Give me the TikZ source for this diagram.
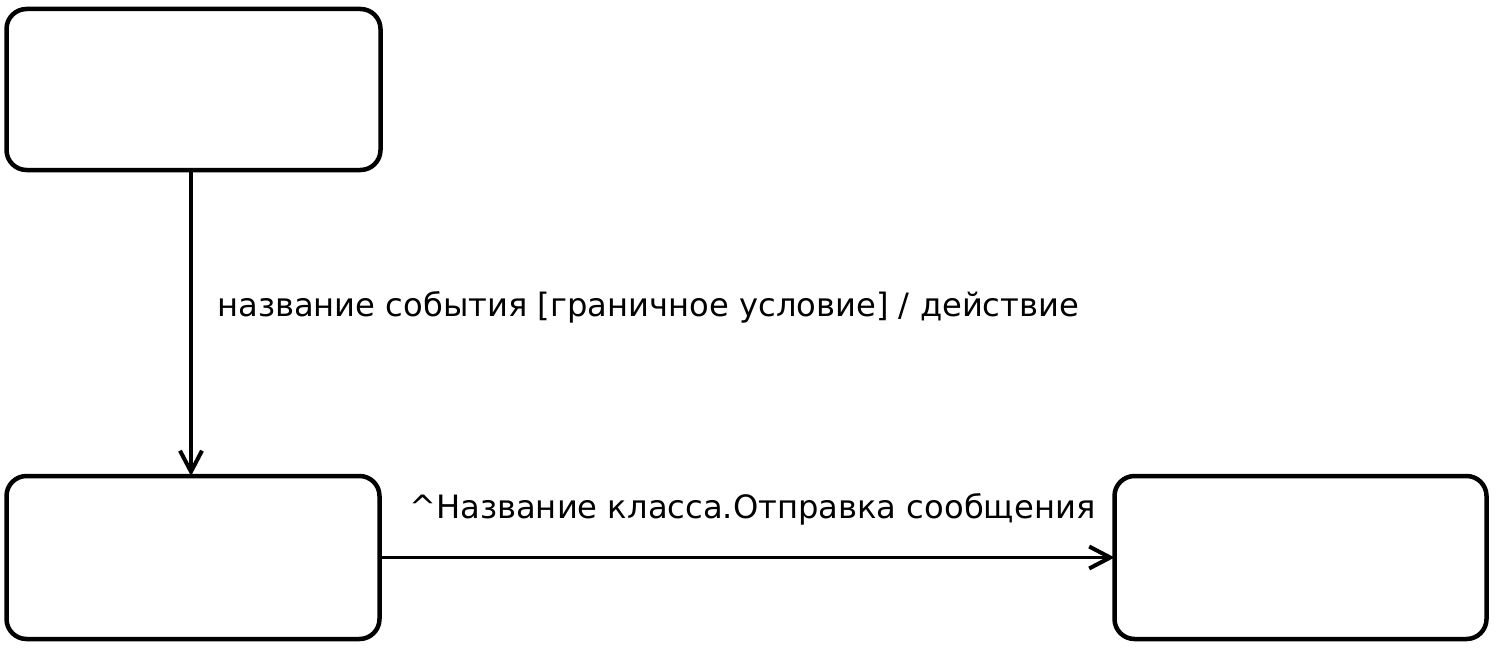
\documentclass[tikz,border=0pt]{standalone}
\usepackage{fontspec}
\setmainfont{DejaVu Sans}
\usetikzlibrary{arrows.meta}
\begin{document}
\begin{tikzpicture}[x=1pt,y=-1pt,
  state/.style={draw, line width=4.5pt, rounded corners=20pt, inner sep=0pt, outer sep=0pt},
  conn/.style={line width=3.5pt, -{Straight Barb[length=21pt,width=22pt,line width=4pt]}},
  lbl/.style={anchor=base west, inner sep=0pt, font=\fontsize{32.2}{38}\selectfont}]
\useasboundingbox[fill=white] (0,0) rectangle (1496,650);
\node[state, minimum width=374pt, minimum height=161pt] (s1) at (193.5,89.5) {};
\node[state, minimum width=373pt, minimum height=163pt] (s2) at (193,557.5) {};
\node[state, minimum width=372pt, minimum height=163pt] (s3) at (1300.5,557.5) {};
\draw[conn] ([xshift=-2.5pt]s1.south) -- ([xshift=-2pt]s2.north);
\draw[conn] (s2.east) -- (s3.west);
\node[lbl] (l1) at (217,316) {название события [граничное условие] / действие};
\node[lbl] (l2) at (409,518) {\^{}Название класса.Отправка сообщения};
\end{tikzpicture}
\end{document}
